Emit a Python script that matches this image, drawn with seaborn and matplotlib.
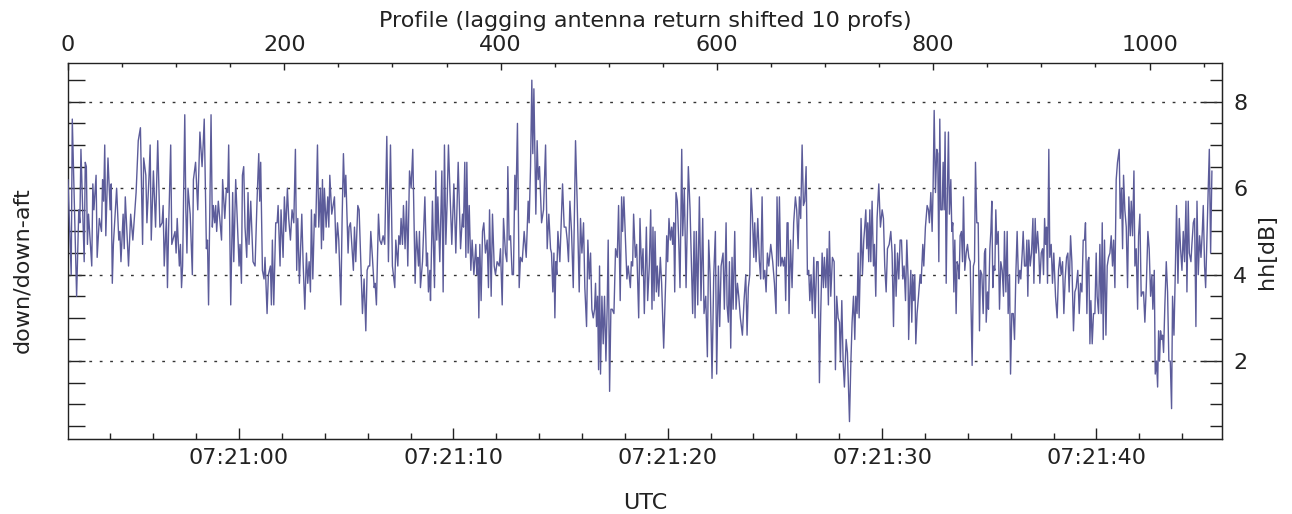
import matplotlib
matplotlib.use("Agg")
import numpy as np
import pandas as pd
import matplotlib.pyplot as plt
import seaborn as sns
from matplotlib.ticker import MultipleLocator, FixedLocator, FuncFormatter

# profile number (x) and hh return ratio in dB (y)
profile = [
    0, 3, 4, 8, 10, 11, 12, 14, 15, 16,
    17, 18, 19, 22, 23, 24, 26, 27, 29, 31,
    32, 33, 34, 35, 37, 39, 40, 41, 42, 45,
    47, 48, 49, 51, 52, 53, 56, 58, 60, 63,
    65, 67, 69, 70, 72, 73, 75, 76, 77, 79,
    81, 83, 85, 87, 88, 89, 91, 92, 93, 95,
    96, 99, 100, 101, 103, 104, 105, 106, 108, 109,
    110, 111, 113, 115, 116, 118, 120, 122, 124, 125,
    126, 128, 129, 130,
    132.3, 133.5, 134.4, 135.7, 136.6, 137.5, 139.0, 142.0, 143.0, 145.0,
    146.5, 147.7, 148.6, 150.5, 152.3, 153.3, 155.1, 156.6, 158.2, 159.1,
    160.4, 161.3, 162.5, 163.7, 165.3, 166.5, 167.4, 169.0, 171.1, 173.0,
    174.8, 176.4, 177.3, 178.2, 179.8, 181.3, 182.2, 184.1, 185.3, 187.2,
    188.1, 189.0, 190.3, 192.1, 193.4, 194.3, 196.1, 197.0, 198.9, 200.1,
    201.4, 202.9, 204.1, 205.7, 207.2, 208.8, 210.3, 211.5, 212.5, 214.0,
    216.2, 217.4, 219.0, 220.5, 221.7, 223.0, 224.2, 225.1, 226.4, 227.9,
    229.1, 230.7, 231.9, 233.4, 234.4, 235.3, 236.2, 237.1, 238.7, 240.2,
    241.2, 242.1, 243.9, 246.4, 247.9, 249.2, 250.4, 252.3, 253.5, 254.7,
    255.9, 256.9, 259.0,
    259.9, 261.2, 262.4, 263.9, 264.9, 266.1, 268.0, 269.2, 270.7, 272.3,
    273.8, 275.4, 276.6, 277.8, 279.0, 280.0, 281.5, 283.1, 284.0, 285.2,
    287.1, 288.3, 289.8, 291.4, 292.9, 294.8, 296.3, 298.2, 300.0, 302.2,
    303.1, 305.0, 305.9, 307.1, 308.0, 309.3, 310.2, 311.7, 313.0, 314.2,
    315.8, 317.3, 318.8, 321.0, 322.2, 324.1, 325.0, 325.9, 327.8, 330.0,
    331.5, 332.4, 333.3, 334.6, 335.2, 337.0, 338.9, 340.1, 341.0, 342.0,
    343.8, 345.7, 346.9, 348.1, 349.4, 350.6, 351.8, 353.1, 354.9, 356.8,
    358.6, 360.8, 363.0, 364.8, 365.7, 366.9, 367.9, 368.8, 370.0, 371.0,
    372.5, 373.7, 375.3, 377.1, 378.0, 379.0, 379.9, 380.8, 382.0, 383.3,
    384.5, 386.0, 387.6, 388.8, 389.8,
    391.3, 392.5, 394.1, 395.3, 396.8, 398.7, 399.9, 401.5, 402.7, 404.5,
    405.8, 406.7, 407.9, 409.2, 410.7, 411.9, 413.2, 414.1, 415.6, 417.2,
    418.4, 420.0, 421.8, 423.7, 425.5, 426.4, 427.7, 428.9, 429.8, 430.8,
    432.6, 433.8, 434.8, 436.0, 437.9, 439.7, 441.6, 443.1, 444.6, 446.2,
    447.1, 448.3, 449.3, 450.2, 451.1, 452.0, 453.0, 454.8, 457.3, 458.8,
    460.4, 461.6, 462.8, 464.1, 465.6, 467.2, 469.3, 470.8, 472.7, 473.9,
    475.2, 476.7, 477.9, 479.5, 480.7, 482.0, 483.2, 484.4, 485.7, 486.9,
    487.8, 488.7, 489.7, 490.6, 491.5, 492.4, 493.7, 494.9, 496.1, 497.4,
    498.6, 499.5, 500.8, 502.0, 503.2, 504.8, 506.3, 507.9, 509.1, 510.6,
    511.9, 512.8, 514.0, 515.6, 516.8, 518.0,
    520.0, 520.9, 522.1, 523.0, 524.6, 525.8, 527.7, 528.9, 530.4, 531.7,
    532.9, 534.8, 536.0, 537.5, 538.8, 540.0, 540.9, 541.9, 542.8, 544.0,
    544.9, 546.2, 547.7, 548.9, 550.8, 552.7, 553.6, 554.5, 555.7, 557.0,
    558.2, 559.1, 560.1, 561.0, 562.2, 563.4, 564.7, 565.9, 567.5, 568.4,
    569.9, 571.5, 573.6, 575.2, 576.4, 577.6, 578.9, 579.8, 581.0, 582.3,
    583.8, 585.3, 586.9, 588.1, 589.7, 591.2, 592.4, 593.7, 595.5, 597.1,
    598.6, 599.8, 601.4, 602.6, 603.9, 605.7, 606.9, 608.5, 609.4, 610.6,
    611.6, 612.8, 614.0, 615.0, 616.5, 617.7, 619.0, 620.2, 621.7, 623.6,
    625.1, 626.7, 627.9, 629.1, 630.4, 631.6, 632.8, 634.1, 635.0, 636.2,
    637.8, 639.3, 640.5, 641.8, 643.0, 644.3, 645.5, 646.7, 648.0,
    649.8, 651.6, 653.2, 654.7, 655.6, 656.9, 657.8, 659.0, 660.3, 661.5,
    662.7, 663.6, 664.9, 665.8, 666.7, 668.0, 669.5, 671.0, 672.6, 673.8,
    675.1, 676.3, 677.5, 678.8, 680.0, 681.2, 682.5, 683.7, 684.9, 685.9,
    687.1, 688.3, 689.6, 690.8, 692.3, 693.6, 694.8, 696.0, 697.3, 698.5,
    699.4, 700.7, 701.9, 703.1, 704.0, 705.3, 706.8, 708.4, 709.6, 710.8,
    712.1, 713.3, 714.2, 715.5, 716.7, 717.9, 719.5, 720.7, 722.6, 723.8,
    725.0, 726.3, 727.5, 728.4, 729.6, 730.6, 731.5, 732.4, 733.3, 734.6,
    735.8, 736.7, 737.7, 738.6, 739.5, 740.4, 741.4, 742.3, 743.5, 744.8,
    745.7, 746.9, 748.1, 749.7, 751.2, 752.8, 754.0, 755.2, 756.5, 757.7,
    759.3, 760.8, 762.0, 763.3, 764.5, 765.7, 767.0, 768.2, 769.4, 770.7,
    771.9, 773.1, 774.4, 775.6, 776.8, 777.3,
    778.3, 779.3, 780.2, 781.1, 782.0, 783.0, 783.9, 785.1, 786.4, 787.9,
    788.8, 790.4, 791.3, 792.8, 794.4, 795.6, 796.5, 797.8, 799.0, 799.9,
    800.9, 802.1, 803.3, 804.2, 805.2, 806.1, 807.0, 808.3, 809.2, 810.1,
    811.0, 812.0, 812.9, 814.1, 815.0, 816.3, 817.2, 818.1, 819.1, 820.0,
    821.2, 822.1, 823.1, 824.0, 824.9, 826.1, 827.1, 828.0, 829.2, 830.5,
    831.7, 832.9, 834.2, 835.1, 836.0, 837.2, 838.2, 839.1, 840.3, 841.6,
    842.8, 843.7, 845.0, 846.2, 847.4, 848.4, 849.0, 850.2, 851.1, 852.4,
    853.3, 854.2, 855.1, 856.1, 857.0, 857.9, 858.8, 860.1, 861.3, 862.5,
    863.8, 865.0, 865.9, 867.2, 868.4, 869.3, 870.6, 871.5, 872.7, 874.0,
    875.2, 876.4, 877.6, 878.9, 880.1, 881.0, 882.3, 883.2, 884.4, 885.7,
    886.6, 887.5, 888.4, 889.7, 890.9, 892.2, 893.1, 894.3, 895.2, 896.5,
    897.7, 898.6, 899.9, 901.1, 902.0, 903.0, 903.9, 904.8, 905.7, 906.9,
    907.8, 909.1, 910.3, 911.5, 913.1, 914.6, 915.9, 917.1, 918.3, 919.6,
    920.8, 922.0, 923.3, 924.5, 925.7, 927.0, 928.2, 929.7, 931.0, 932.2,
    933.7, 935.0, 936.2, 937.5, 938.7, 939.9, 940.8, 942.1, 943.0, 943.9,
    944.9, 945.8, 947.0, 948.2, 949.5, 950.7, 951.6, 952.9, 954.1, 955.3,
    956.3, 957.2, 958.4, 959.7, 960.9, 962.1, 963.4, 964.6, 965.8, 966.8,
    968.0, 969.2, 970.4, 972.0, 972.9, 974.1, 975.1, 976.0, 977.2, 978.5,
    979.7, 980.9, 982.2, 983.1, 984.3, 985.6, 986.5, 987.7, 989.0, 989.9,
    991.1, 992.3, 993.6, 994.5, 995.7, 997.0, 998.5, 999.7, 1001.0, 1002.2,
    1003.1, 1004.4, 1005.3, 1006.5, 1007.5, 1008.4, 1009.3, 1010.2, 1011.2, 1012.1,
    1013.0, 1014.2, 1015.5, 1016.7, 1017.9, 1019.2, 1020.4, 1021.3, 1022.6, 1023.8,
    1025.0, 1026.3, 1027.5, 1028.7, 1030.0, 1031.2, 1032.4, 1033.7, 1034.6, 1035.8,
    1036.8, 1038.3, 1039.2, 1040.5, 1041.7, 1042.9, 1043.9, 1045.1, 1046.3, 1047.6,
    1048.8, 1049.7, 1050.9, 1051.9, 1053.1, 1054.3, 1055.3, 1056.5, 1057.7,
]

hh_db = [
    6.2, 4.0, 7.6, 3.5, 5.5, 5.2, 6.9, 5.2, 4.3, 6.6,
    6.5, 4.7, 5.4, 4.2, 6.1, 5.5, 6.3, 4.4, 5.3, 5.0,
    6.2, 5.7, 7.0, 4.9, 6.7, 5.5, 6.1, 3.8, 4.7, 6.0,
    4.8, 5.0, 4.3, 5.4, 4.6, 5.8, 4.2, 5.4, 4.8, 5.9,
    7.1, 7.4, 4.7, 6.7, 6.3, 5.2, 6.3, 7.0, 4.8, 6.4,
    5.1, 7.1, 5.1, 5.2, 5.6, 4.2, 5.3, 3.7, 5.0, 7.0,
    4.7, 5.0, 4.5, 5.3, 4.2, 4.7, 3.7, 4.2, 7.7, 5.5,
    4.5, 6.0, 5.4, 4.0, 6.2, 6.6, 5.5, 7.3, 6.5, 7.0,
    7.6, 4.6, 4.8, 3.3,
    7.7, 5.1, 5.6, 5.2, 5.6, 5.0, 5.7, 4.8, 6.2, 5.3,
    6.0, 5.9, 7.0, 3.3, 5.9, 4.3, 6.2, 5.2, 4.2, 4.7,
    3.8, 6.3, 6.5, 5.1, 4.4, 5.9, 4.7, 5.7, 4.3, 4.2,
    5.7, 6.8, 5.7, 6.6, 4.1, 3.9, 4.4, 3.1, 4.0, 4.2,
    3.3, 4.8, 3.3, 5.2, 5.2, 5.6, 4.2, 5.5, 4.4, 5.8,
    5.0, 6.0, 5.3, 4.8, 5.5, 5.2, 6.9, 4.1, 5.3, 3.8,
    5.4, 4.3, 3.2, 4.5, 3.8, 4.3, 3.6, 5.5, 3.9, 5.4,
    5.1, 7.0, 5.1, 6.0, 4.6, 6.2, 4.8, 6.0, 5.1, 5.8,
    5.1, 6.3, 5.4, 5.8, 4.5, 5.2, 4.8, 3.3, 5.3, 6.8,
    5.8, 6.3, 4.5,
    5.1, 5.2, 4.7, 4.1, 5.1, 4.3, 5.6, 5.5, 4.3, 3.1,
    3.9, 2.7, 4.1, 4.2, 4.2, 5.0, 4.4, 3.7, 3.8, 3.3,
    5.4, 4.8, 4.7, 4.9, 4.7, 7.2, 4.3, 7.0, 4.2, 3.7,
    4.8, 4.2, 4.9, 4.7, 5.3, 4.7, 5.6, 4.6, 5.7, 4.2,
    6.4, 6.0, 6.9, 3.8, 5.0, 4.2, 5.0, 3.7, 4.3, 5.8,
    4.2, 4.5, 3.6, 4.1, 3.4, 5.7, 3.7, 6.4, 4.8, 5.8,
    4.3, 6.4, 3.6, 7.0, 4.7, 5.7, 7.0, 6.0, 4.7, 6.1,
    4.5, 6.6, 4.6, 5.4, 5.1, 6.6, 4.4, 6.6, 4.5, 5.6,
    4.1, 4.8, 4.0, 4.7, 4.0, 4.4, 3.0, 4.7, 3.4, 5.0,
    5.2, 4.5, 4.8, 3.7, 5.5,
    3.5, 5.4, 4.2, 4.0, 4.3, 4.2, 4.6, 3.3, 5.3, 4.5,
    4.3, 6.5, 4.8, 4.9, 4.0, 4.0, 6.3, 5.5, 7.5, 3.7,
    4.4, 4.3, 5.0, 4.4, 5.7, 5.2, 6.5, 8.5, 6.8, 8.3,
    5.4, 7.1, 6.2, 6.5, 5.2, 5.5, 7.0, 4.6, 5.4, 4.6,
    4.5, 3.6, 4.5, 3.0, 4.3, 4.0, 5.0, 4.3, 6.1, 5.1,
    5.1, 4.8, 4.3, 5.7, 5.0, 3.7, 7.1, 5.7, 3.6, 5.3,
    4.5, 5.2, 3.7, 2.8, 4.8, 3.9, 4.5, 3.2, 3.0, 3.2,
    3.8, 2.8, 3.5, 1.8, 4.2, 1.7, 3.5, 2.4, 3.5, 2.0,
    3.3, 4.8, 1.3, 3.2, 3.2, 3.1, 4.6, 4.4, 5.6, 3.4,
    5.8, 5.0, 5.8, 4.7, 3.9, 4.2,
    3.7, 4.3, 4.2, 5.4, 4.4, 4.7, 3.0, 5.3, 4.0, 4.6,
    3.1, 5.1, 3.4, 4.2, 5.5, 3.2, 5.1, 3.4, 5.0, 3.6,
    4.2, 3.5, 4.4, 3.8, 2.3, 3.9, 4.9, 4.3, 5.3, 4.8,
    5.1, 4.7, 5.2, 3.6, 5.9, 5.7, 4.8, 3.7, 6.9, 4.9,
    6.0, 3.7, 6.5, 5.5, 4.3, 3.1, 5.0, 3.0, 5.0, 3.3,
    5.8, 3.4, 5.3, 3.1, 3.5, 2.1, 4.8, 4.0, 1.6, 4.0,
    5.0, 1.7, 4.2, 2.8, 4.2, 4.5, 3.2, 5.2, 3.3, 2.9,
    4.3, 2.3, 4.4, 3.2, 5.0, 3.2, 3.8, 3.5, 3.0, 2.6,
    3.4, 4.0, 2.6, 3.7, 4.0, 6.0, 5.4, 4.4, 5.2, 4.3,
    5.3, 4.3, 3.9, 5.8, 3.9, 4.1, 3.6, 4.5, 4.2,
    4.7, 4.3, 3.8, 3.1, 5.8, 4.2, 5.8, 4.2, 4.4, 4.2,
    4.4, 3.4, 5.2, 5.2, 3.1, 4.8, 3.7, 5.2, 5.8, 5.5,
    4.6, 5.8, 5.3, 7.0, 5.6, 5.7, 6.5, 4.0, 4.1, 3.4,
    4.0, 3.1, 4.4, 3.0, 4.3, 4.3, 1.5, 3.1, 4.5, 3.7,
    4.4, 3.7, 4.6, 3.3, 5.0, 3.5, 4.4, 4.3, 1.8, 3.5,
    3.0, 2.9, 2.0, 3.4, 2.0, 1.4, 2.5, 2.2, 0.6, 1.9,
    2.9, 3.5, 2.5, 3.5, 3.1, 4.5, 3.0, 4.0, 5.3, 4.0,
    4.8, 5.1, 5.5, 4.6, 5.2, 4.3, 5.5, 4.3, 5.7, 4.2,
    4.7, 3.5, 5.3, 6.1, 5.1, 5.5, 5.3, 4.2, 3.6, 4.6,
    4.7, 5.0, 4.5, 2.8, 4.7, 3.5, 4.5, 3.9, 4.8, 4.8,
    3.9, 4.2, 3.4, 4.8, 3.9, 2.5,
    3.5, 4.1, 2.9, 4.0, 3.4, 4.0, 2.4, 3.1, 3.5, 4.0,
    3.8, 4.7, 4.2, 5.1, 5.6, 5.5, 5.2, 5.9, 5.0, 6.0,
    7.8, 5.9, 6.9, 6.8, 4.3, 7.6, 5.5, 5.5, 6.6, 5.5,
    7.3, 3.8, 5.6, 7.3, 5.4, 6.2, 5.0, 5.2, 3.6, 4.8,
    3.1, 4.3, 4.2, 3.9, 4.9, 5.0, 4.3, 5.8, 4.1, 4.5,
    4.7, 4.4, 4.3, 3.1, 1.9, 4.2, 4.3, 6.6, 5.2, 5.2,
    2.7, 4.1, 4.0, 3.1, 4.5, 4.6, 2.9, 3.6, 3.2, 4.6,
    5.0, 5.7, 3.7, 4.2, 4.1, 5.5, 4.7, 5.0, 3.2, 4.3,
    4.1, 3.5, 5.0, 3.6, 5.0, 3.1, 4.0, 1.7, 3.1, 3.1,
    2.5, 4.0, 5.0, 3.8, 4.1, 3.9, 4.5, 5.0, 4.2, 4.2,
    4.8, 3.5, 4.8, 4.2, 4.5, 5.3, 3.8, 5.3, 4.5, 5.0,
    4.5, 3.8, 4.5, 4.6, 4.0, 5.3, 4.7, 5.1, 3.8, 6.9,
    4.4, 4.7, 3.8, 4.5, 3.5, 3.0, 4.1, 4.4, 4.0, 4.3,
    3.1, 3.9, 4.4, 4.5, 3.6, 4.9, 4.3, 2.7, 3.6, 3.7,
    4.1, 3.1, 3.8, 3.6, 4.8, 4.8, 5.2, 3.1, 4.3, 4.4,
    2.4, 3.4, 2.4, 3.1, 3.1, 4.5, 3.5, 3.1, 4.7, 3.1,
    5.2, 2.5, 4.8, 2.6, 4.2, 4.4, 4.5, 4.9, 4.2, 4.8,
    3.7, 6.2, 6.6, 6.9, 5.3, 6.0, 4.6, 6.3, 5.5, 5.1,
    3.7, 5.8, 4.9, 5.7, 4.9, 6.4, 4.2, 4.6, 3.2, 4.9,
    5.4, 3.5, 3.6, 3.6, 2.9, 3.7, 5.0, 4.6, 3.5, 4.0,
    3.2, 4.1, 1.7, 2.0, 1.4, 2.7, 2.0, 2.7, 2.5, 2.6,
    2.2, 3.3, 4.3, 3.6, 2.0, 2.0, 0.9, 3.5, 2.6, 4.0,
    5.6, 3.8, 5.3, 4.6, 4.1, 5.0, 4.3, 5.7, 3.6, 5.7,
    4.5, 4.3, 4.7, 5.2, 5.3, 2.8, 5.7, 4.0, 4.9, 4.4,
    5.0, 5.6, 4.2, 3.7, 4.9, 6.0, 6.9, 4.5, 6.4,
]

assert len(profile) == len(hh_db), (len(profile), len(hh_db))

prf_rate = 19.82                        # profiles per second
t_first = 7 * 3600 + 20 * 60 + 52.02    # UTC seconds of day at profile 0
n_profiles = 1067
ref_levels = [2, 4, 6, 8]

sns.set_style("ticks")
plt.rcParams["font.family"] = ["DejaVu Sans"]
plt.rcParams["font.size"] = 16

ink = "#222222"
line_col = "#5c5c9a"

fig = plt.figure(figsize=(12.92, 5.14), dpi=100)
ax = fig.add_axes([0.0526, 0.1453, 0.8932, 0.7315])

df = pd.DataFrame({"profile": profile, "hh": hh_db})
sns.lineplot(data=df, x="profile", y="hh", estimator=None, sort=False,
             color=line_col, linewidth=1.0, ax=ax, zorder=3)

for lvl in ref_levels:
    ax.axhline(lvl, color="#333333", lw=1.0, ls=(0, (2.0, 5.5)), zorder=1)

ax.set_xlim(0, n_profiles)
ax.set_ylim(0.19, 8.89)

for s in ax.spines.values():
    s.set_color(ink)
    s.set_linewidth(1.0)

# top axis: profile number
ax.xaxis.tick_top()
ax.xaxis.set_label_position("top")
ax.xaxis.set_major_locator(MultipleLocator(200))
ax.xaxis.set_minor_locator(MultipleLocator(50))
ax.tick_params(axis="x", which="major", direction="in", length=5, width=1,
               pad=6, top=True, bottom=False, labeltop=True, labelbottom=False,
               colors=ink, labelsize=16)
ax.tick_params(axis="x", which="minor", direction="in", length=3, width=1,
               top=True, bottom=False, colors=ink)
ax.set_xlabel("Profile (lagging antenna return shifted 10 profs)",
              labelpad=6, color=ink, fontsize=16)

# left axis: ticks only
ax.yaxis.set_major_locator(MultipleLocator(0.5))
ax.tick_params(axis="y", which="major", direction="in", length=12.5, width=1,
               left=True, right=False, labelleft=False, colors=ink)
ax.set_ylabel("")
fig.text(22 / 1292, 1 - 270 / 514, "down/down-aft", rotation=90,
         ha="center", va="center", color=ink, fontsize=16)

# right axis: hh in dB
ry = ax.secondary_yaxis("right")
ry.yaxis.set_major_locator(FixedLocator(ref_levels))
ry.yaxis.set_minor_locator(FixedLocator(np.arange(0.5, 8.6, 0.5)))
ry.tick_params(axis="y", which="major", direction="in", length=16, width=1,
               pad=8, colors=ink, labelsize=16)
ry.tick_params(axis="y", which="minor", direction="in", length=8.5, width=1,
               colors=ink)
ry.spines["right"].set_color(ink)
ry.set_ylabel("hh[dB]", labelpad=7, color=ink, fontsize=16)


# bottom axis: UTC time
def prof_to_t(p):
    return t_first + np.asarray(p) / prf_rate


def t_to_prof(t):
    return (np.asarray(t) - t_first) * prf_rate


def hms(t, pos=None):
    t = int(round(t))
    return f"{t // 3600:02d}:{(t % 3600) // 60:02d}:{t % 60:02d}"


t_lo = t_first
t_hi = t_first + n_profiles / prf_rate
major_t = [t for t in range(int(t_lo), int(t_hi) + 1) if t % 10 == 0 and t_lo < t < t_hi]
minor_t = [t for t in range(int(t_lo), int(t_hi) + 1) if t % 2 == 0 and t_lo < t < t_hi]

bx = ax.secondary_xaxis("bottom", functions=(prof_to_t, t_to_prof))
bx.xaxis.set_major_locator(FixedLocator(major_t))
bx.xaxis.set_minor_locator(FixedLocator(minor_t))
bx.xaxis.set_major_formatter(FuncFormatter(hms))
bx.tick_params(axis="x", which="major", direction="in", length=8, width=1,
               pad=6, colors=ink, labelsize=16)
bx.tick_params(axis="x", which="minor", direction="in", length=4.3, width=1,
               colors=ink)
bx.spines["bottom"].set_color(ink)
bx.set_xlabel("UTC", labelpad=18, color=ink, fontsize=16)

fig.savefig("out.png", dpi=100)
plt.close(fig)
